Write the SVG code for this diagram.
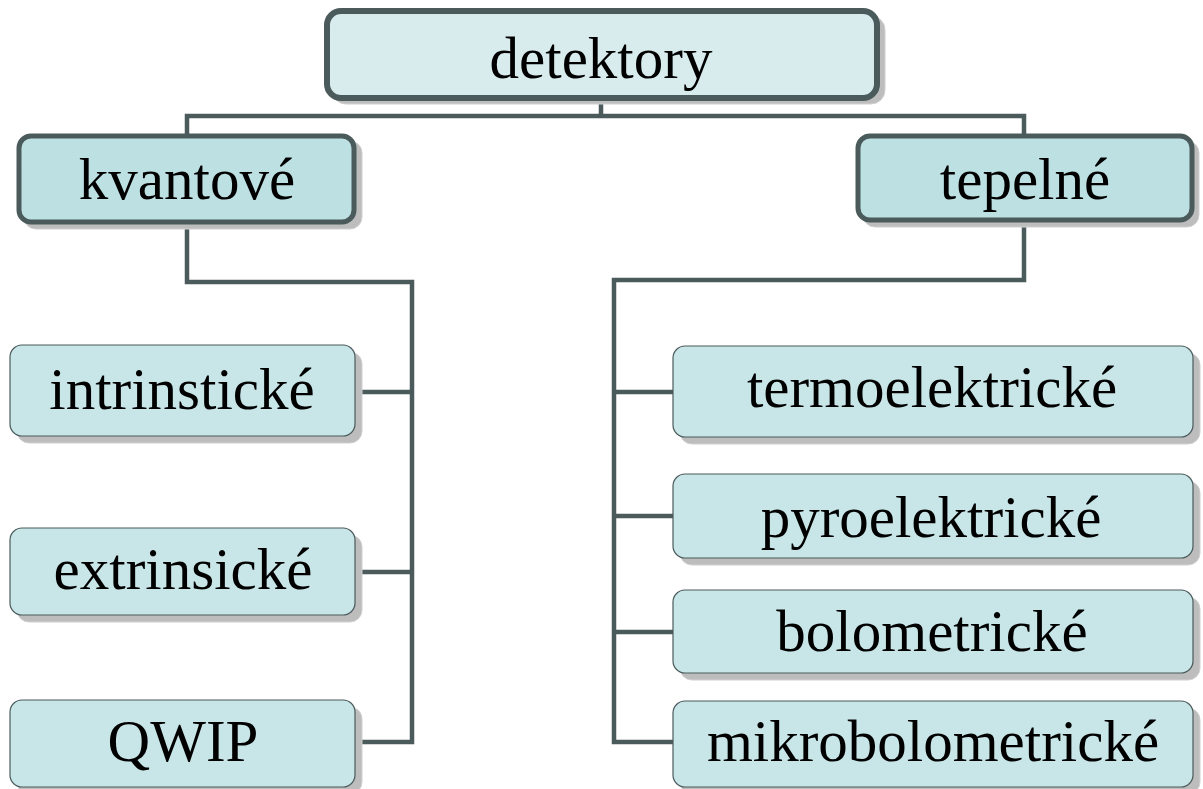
<svg xmlns="http://www.w3.org/2000/svg" width="1203" height="789" viewBox="0 0 1203 789">
<style>
.sh{fill:#bdbdbd;stroke:#d0d0d0;stroke-width:1}
.top{fill:#d8ecee;stroke:#4b5a5b;stroke-width:6}
.mid{fill:#bde0e3;stroke:#4b5a5b;stroke-width:5}
.leaf{fill:#c8e6e8;stroke:#4b5a5b;stroke-width:1.2}
text{font-family:"Liberation Serif","Times New Roman",serif;font-size:59px;fill:#000;text-anchor:middle}
.c{fill:none;stroke:#4b5a5b;stroke-width:4.5}
</style>
<g id="connectors">
<polyline class="c" points="601,98 601,116"/>
<polyline class="c" points="187,135 187,116 1024,116 1024,135"/>
<polyline class="c" points="187,222 187,282 412,282 412,742 355,742"/>
<line class="c" x1="355" y1="392" x2="412" y2="392"/>
<line class="c" x1="355" y1="572" x2="412" y2="572"/>
<polyline class="c" points="1024,220 1024,280 614,280 614,742 673,742"/>
<line class="c" x1="614" y1="392" x2="673" y2="392"/>
<line class="c" x1="614" y1="516" x2="673" y2="516"/>
<line class="c" x1="614" y1="632" x2="673" y2="632"/>
</g>
<g id="detektory">
<rect class="sh" x="332" y="16" width="553" height="88" rx="14"/>
<rect class="top" x="327" y="11" width="550" height="87" rx="14"/>
<text x="601" y="78">detektory</text>
</g>
<g id="kvantove">
<rect class="sh" x="24" y="141" width="338" height="88" rx="12"/>
<rect class="mid" x="19" y="136" width="335" height="86" rx="12"/>
<text x="187" y="199">kvantové</text>
</g>
<g id="tepelne">
<rect class="sh" x="863" y="141" width="336" height="86" rx="12"/>
<rect class="mid" x="858" y="136" width="334" height="84" rx="12"/>
<text x="1025" y="199">tepelné</text>
</g>
<g id="intrinsticke">
<rect class="sh" x="17" y="352" width="345" height="91" rx="12"/>
<rect class="leaf" x="10" y="345" width="345" height="91" rx="12"/>
<text x="182" y="409">intrinstické</text>
</g>
<g id="extrinsicke">
<rect class="sh" x="17" y="535" width="345" height="87" rx="12"/>
<rect class="leaf" x="10" y="528" width="345" height="87" rx="12"/>
<text x="183" y="589">extrinsické</text>
</g>
<g id="qwip">
<rect class="sh" x="17" y="707" width="345" height="87" rx="12"/>
<rect class="leaf" x="10" y="700" width="345" height="87" rx="12"/>
<text x="183" y="761">QWIP</text>
</g>
<g id="termoelektricke">
<rect class="sh" x="680" y="353" width="520" height="91" rx="12"/>
<rect class="leaf" x="673" y="346" width="520" height="91" rx="12"/>
<text x="932" y="407">termoelektrické</text>
</g>
<g id="pyroelektricke">
<rect class="sh" x="680" y="481" width="520" height="84" rx="12"/>
<rect class="leaf" x="673" y="474" width="520" height="84" rx="12"/>
<text x="931" y="537">pyroelektrické</text>
</g>
<g id="bolometricke">
<rect class="sh" x="680" y="597" width="520" height="83" rx="12"/>
<rect class="leaf" x="673" y="590" width="520" height="83" rx="12"/>
<text x="932" y="651">bolometrické</text>
</g>
<g id="mikrobolometricke">
<rect class="sh" x="680" y="708" width="520" height="86" rx="12"/>
<rect class="leaf" x="673" y="701" width="520" height="86" rx="12"/>
<text x="933" y="761">mikrobolometrické</text>
</g>
</svg>
